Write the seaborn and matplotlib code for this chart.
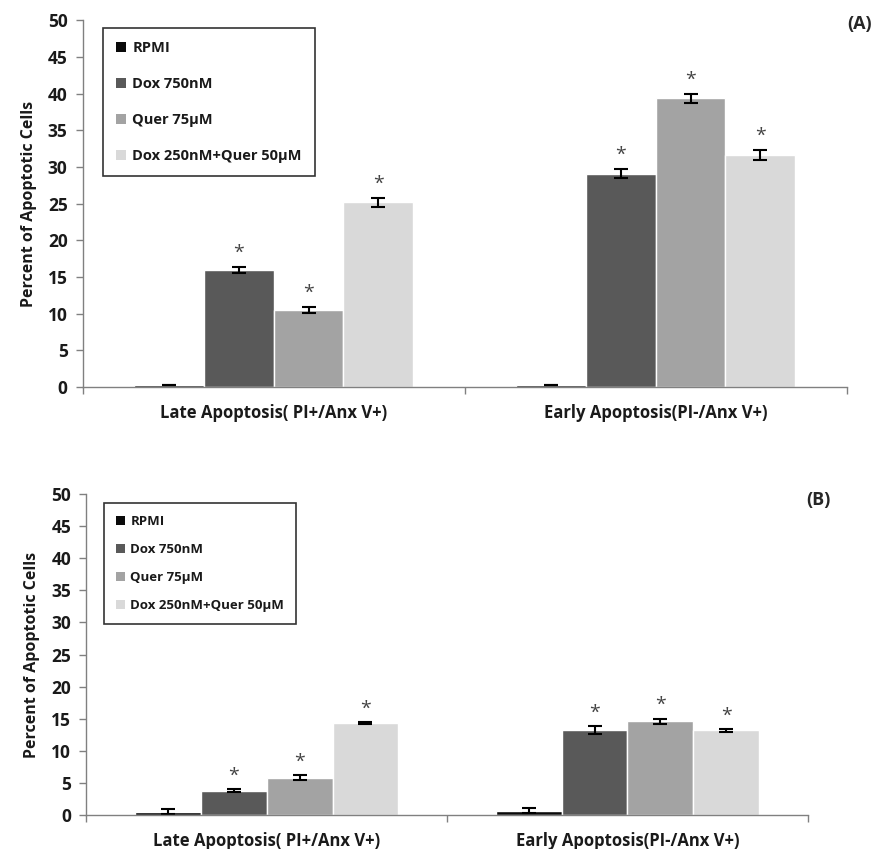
import numpy as np
import pandas as pd
import seaborn as sns
from matplotlib import pyplot as plt
from matplotlib.patches import Patch

categories = ["Late Apoptosis( PI+/Anx V+)", "Early Apoptosis(PI-/Anx V+)"]
treatments = ["RPMI", "Dox 750nM", "Quer 75\u00b5M", "Dox 250nM+Quer 50\u00b5M"]
colors = ["#0a0a0a", "#595959", "#a3a3a3", "#d9d9d9"]

# panel A (rows = treatments, cols = categories)
a_vals = [[0.3, 0.3], [16.0, 29.1], [10.5, 39.4], [25.2, 31.6]]
a_errs = [[0.0, 0.0], [0.4, 0.6], [0.4, 0.6], [0.6, 0.7]]
a_star = [[False, False], [True, True], [True, True], [True, True]]

# panel B
b_vals = [[0.5, 0.7], [3.8, 13.2], [5.8, 14.6], [14.3, 13.2]]
b_errs = [[0.4, 0.4], [0.2, 0.6], [0.4, 0.4], [0.15, 0.2]]
b_star = [[False, False], [True, True], [True, True], [True, True]]

sns.set_theme(style="white")
plt.rcParams["font.family"] = ["Open Sans", "DejaVu Sans"]


def draw_panel(ax, vals, errs, stars, tag, tag_xy, leg_box, leg_fs, leg_sp):
    rows = []
    for t, vrow in zip(treatments, vals):
        for c, v in zip(categories, vrow):
            rows.append({"cat": c, "treat": t, "val": v})
    df = pd.DataFrame(rows)
    sns.barplot(data=df, x="cat", y="val", hue="treat", order=categories,
                hue_order=treatments, palette=colors, width=0.73,
                errorbar=None, saturation=1, ax=ax, legend=False)
    for cont, erow, srow, vrow in zip(ax.containers, errs, stars, vals):
        xs = [p.get_x() + p.get_width() / 2 for p in cont.patches]
        ax.errorbar(xs, vrow, yerr=erow, fmt="none", ecolor="black",
                    elinewidth=1.5, capsize=5, capthick=1.5)
        for x, v, e, s in zip(xs, vrow, erow, srow):
            if s:
                ax.text(x, v + e + 0.7, "*", ha="center", va="bottom",
                        fontsize=14, color="#444444")
    ax.set_ylim(0, 50)
    ax.set_xlim(-0.5, 1.5)
    ax.set_yticks(range(0, 51, 5))
    ax.tick_params(axis="y", labelsize=12.5, length=5, width=1,
                   color="#808080", direction="out", left=True, pad=6)
    for lab in ax.get_yticklabels():
        lab.set_fontweight("bold")
        lab.set_color("#1a1a1a")
    ax.set_xticks([-0.5, 0.5, 1.5], minor=False)
    ax.set_xticklabels([])
    ax.set_xticks([0, 1], minor=True)
    ax.set_xticklabels(categories, minor=True, fontsize=12,
                       fontweight="bold", color="#1a1a1a")
    ax.tick_params(axis="x", which="major", length=5, width=1,
                   color="#808080", direction="out", bottom=True)
    ax.tick_params(axis="x", which="minor", length=0, pad=12)
    ax.set_xlabel("")
    ax.set_ylabel("Percent of Apoptotic Cells", fontsize=11.5,
                  fontweight="bold", labelpad=8, color="#1a1a1a")
    for side in ["top", "right"]:
        ax.spines[side].set_visible(False)
    for side in ["left", "bottom"]:
        ax.spines[side].set_color("#808080")
        ax.spines[side].set_linewidth(1)
    handles = [Patch(facecolor=c, edgecolor="none") for c in colors]
    leg = ax.legend(handles, treatments, loc="upper left",
                    bbox_to_anchor=leg_box, bbox_transform=ax.figure.transFigure,
                    frameon=True, fancybox=False, edgecolor="black",
                    fontsize=leg_fs, labelspacing=leg_sp, handlelength=0.7,
                    handleheight=0.7, handletextpad=0.4, borderpad=0.9,
                    borderaxespad=0)
    leg.get_frame().set_linewidth(1.2)
    for t in leg.get_texts():
        t.set_fontweight("bold")
        t.set_color("#1a1a1a")
    ax.figure.text(tag_xy[0], tag_xy[1], tag, fontsize=13, fontweight="bold",
                   ha="left", va="center")


fig = plt.figure(figsize=(8.81, 8.49), dpi=100)
ax_a = fig.add_axes([0.094, 0.544, 0.867, 0.432])
ax_b = fig.add_axes([0.098, 0.040, 0.819, 0.378])

draw_panel(ax_a, a_vals, a_errs, a_star, "(A)", (0.962, 0.972),
           (103 / 881, 1 - 28 / 849), 10.5, 1.5)
draw_panel(ax_b, b_vals, b_errs, b_star, "(B)", (0.915, 0.411),
           (104 / 881, 1 - 503 / 849), 9.5, 1.15)

fig.savefig("out.png", dpi=100)
